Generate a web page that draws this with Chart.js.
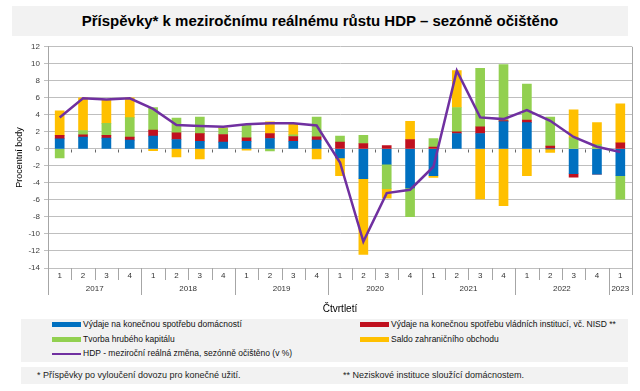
<!DOCTYPE html>
<html>
<head>
<meta charset="utf-8">
<script src="https://cdn.jsdelivr.net/npm/chart.js@4.4.0/dist/chart.umd.min.js"></script>
<style>
  body {
    margin: 0;
    width: 640px;
    height: 391px;
    background: #fff;
    position: relative;
    overflow: hidden;
    font-family: Arial, "Liberation Sans", sans-serif;
  }
  #title {
    position: absolute;
    left: 12px;
    top: 6px;
    width: 616px;
    height: 30px;
    background: #f2f2f2;
    text-align: center;
    font-weight: bold;
    font-size: 15px;
    line-height: 30px;
    color: #000;
  }
  #chartBox { position: absolute; left: 0; top: 38px; width: 640px; height: 277px; }
  #legend {
    position: absolute;
    left: 21px;
    top: 319px;
    width: 607px;
    height: 43px;
    background: #f2f2f2;
  }
  .item {
    position: absolute;
    font-size: 8.5px;
    line-height: 11px;
    height: 11px;
    color: #111;
    white-space: nowrap;
    padding-left: 31px;
  }
  .swatch { position: absolute; left: 0; width: 29px; }
  #notes {
    position: absolute;
    left: 21px;
    top: 367px;
    width: 607px;
    height: 17px;
    background: #f2f2f2;
    font-size: 9px;
    line-height: 17px;
    color: #222;
  }
  #notes span { position: absolute; top: 0; white-space: nowrap; }
</style>
</head>
<body>
<div id="title">Příspěvky* k meziročnímu reálnému růstu HDP – sezónně očištěno</div>
<div id="chartBox"><canvas id="gdpChart" width="640" height="277"></canvas></div>
<div id="legend"></div>
<div id="notes">
  <span style="left:16px">* Příspěvky po vyloučení dovozu pro konečné užití.</span>
  <span style="left:322px">** Neziskové instituce sloužící domácnostem.</span>
</div>
<script>
// quarters 2017Q1 - 2023Q1
const quarters = [
  "1", "2", "3", "4",
  "1", "2", "3", "4",
  "1", "2", "3", "4",
  "1", "2", "3", "4",
  "1", "2", "3", "4",
  "1", "2", "3", "4",
  "1",
];
const years = ["2017", "2018", "2019", "2020", "2021", "2022", "2023"];
const yearQuarters = [4, 4, 4, 4, 4, 4, 1];

// contributions in percentage points
const households = [
  1.18, 1.38, 1.26, 1.03,
  1.5, 1.1, 0.9, 0.79,
  0.9, 1.22, 0.9, 1.03,
  -1.07, -3.51, -1.81, -4.6,
  -3.16, 1.81, 1.81, 3.2,
  3.08, 0, -2.92, -2.96,
  -3.16,
];
const government = [
  0.4, 0.28, 0.32, 0.35,
  0.7, 0.8, 0.9, 0.9,
  0.4, 0.59, 0.56, 0.39,
  0.79, 0.63, 0.4, 1.1,
  0.2, 0.2, 0.79, 0.12,
  0.31, 0.32, -0.4, 0,
  0.71,
];
const capital = [
  -1.07, 0.5, 1.42, 2.29,
  2.65, 1.73, 1.95, 0.7,
  1.58, -0.25, 0.2, 2.33,
  0.71, 0.95, -2.88, -3.37,
  1.02, 2.85, 6.87, 6.58,
  4.22, 3.43, 1.3, 0.5,
  -2.76,
];
const tradeBalance = [
  2.9, 3.83, 2.76, 2.33,
  -0.2, -0.95, -1.18, 0.1,
  -0.15, 1.38, 1.22, -1.18,
  -2.09, -8.9, -1.1, 2.13,
  -0.2, 4.34, -5.88, -6.67,
  -3.16, -0.4, 3.28, 2.58,
  4.58,
];
// GDP y/y real change, %
const gdp = [
  3.7, 5.95, 5.8, 5.95,
  4.7, 2.8, 2.7, 2.6,
  2.9, 3.0, 3.0, 2.75,
  -1.6, -10.9, -5.2, -4.8,
  -2.1, 9.2, 3.7, 3.5,
  4.55, 3.3, 1.4, 0.25,
  -0.36,
];

// centre of each year group on the quarter index scale
const yearCenters = [];
let q = 0;
yearQuarters.forEach((n) => {
  yearCenters.push(q + (n - 1) / 2);
  q += n;
});

const gridColor = "#bfbfbf";
const frameColor = "#a6a6a6";

// quarter / year separators under the plot, zero-line ticks and right frame
const axisLines = {
  id: "axisLines",
  afterDraw(chart) {
    const { ctx, chartArea, scales } = chart;
    const x2 = scales.x2;
    const zero = Math.round(scales.y.getPixelForValue(0)) + 0.5;
    const yearBounds = new Set([0]);
    let s = 0;
    yearQuarters.forEach((n) => {
      s += n;
      yearBounds.add(s);
    });
    ctx.save();
    ctx.lineWidth = 1;
    for (let i = 0; i <= quarters.length; i++) {
      const px = Math.round(x2.getPixelForValue(i - 0.5)) + 0.5;
      ctx.strokeStyle = frameColor;
      ctx.beginPath();
      ctx.moveTo(px, chartArea.bottom);
      ctx.lineTo(px, chartArea.bottom + (yearBounds.has(i) ? 27 : 12));
      ctx.stroke();
      if (i > 0 && i < quarters.length) {
        ctx.strokeStyle = "#666";
        ctx.beginPath();
        ctx.moveTo(px, zero);
        ctx.lineTo(px, zero + 3);
        ctx.stroke();
      }
    }
    const r = Math.round(chartArea.right) + 0.5;
    ctx.strokeStyle = frameColor;
    ctx.beginPath();
    ctx.moveTo(r, chartArea.top);
    ctx.lineTo(r, chartArea.bottom);
    ctx.stroke();
    ctx.restore();
  },
};

Chart.defaults.font.family = 'Arial, "Liberation Sans", sans-serif';

const barBase = { type: "bar", stack: "parts", barThickness: 9, borderWidth: 0, order: 1 };

const chart = new Chart(document.getElementById("gdpChart"), {
  data: {
    labels: quarters,
    datasets: [
      { ...barBase, label: "Výdaje na konečnou spotřebu domácností", data: households, backgroundColor: "#0070c0" },
      { ...barBase, label: "Výdaje na konečnou spotřebu vládních institucí, vč. NISD **", data: government, backgroundColor: "#c0111f" },
      { ...barBase, label: "Tvorba hrubého kapitálu", data: capital, backgroundColor: "#92d050" },
      { ...barBase, label: "Saldo zahraničního obchodu", data: tradeBalance, backgroundColor: "#ffc000" },
      {
        type: "line",
        label: "HDP - meziroční reálná změna, sezónně očištěno (v %)",
        data: gdp,
        stack: "gdp",
        borderColor: "#7030a0",
        backgroundColor: "#7030a0",
        borderWidth: 2.5,
        pointRadius: 0,
        tension: 0,
        order: 0,
      },
    ],
  },
  options: {
    responsive: false,
    animation: false,
    layout: { padding: { top: 4, right: 8, left: 0, bottom: 0 } },
    plugins: {
      legend: { display: false },
      tooltip: { enabled: false },
    },
    scales: {
      x: {
        stacked: true,
        weight: 0,
        grid: { display: false, drawTicks: false },
        border: { color: gridColor },
        ticks: { font: { size: 8 }, color: "#333", padding: 3, maxRotation: 0, autoSkip: false },
        afterFit: (scale) => {
          scale.height = 14;
        },
      },
      x2: {
        type: "linear",
        position: "bottom",
        weight: 1,
        min: -0.5,
        max: quarters.length - 0.5,
        grid: { display: false, drawTicks: false },
        border: { display: false },
        afterBuildTicks: (scale) => {
          scale.ticks = yearCenters.map((v) => ({ value: v }));
        },
        ticks: {
          font: { size: 8 },
          color: "#333",
          padding: 2,
          maxRotation: 0,
          autoSkip: false,
          callback: (value, index) => years[index],
        },
        title: {
          display: true,
          text: "Čtvrtletí",
          font: { size: 10 },
          color: "#000",
          padding: { top: 0, bottom: 0 },
        },
        afterFit: (scale) => {
          scale.height = 33;
        },
      },
      y: {
        stacked: true,
        min: -14,
        max: 12,
        grid: { color: gridColor, tickLength: 4 },
        border: { color: frameColor },
        ticks: { stepSize: 2, font: { size: 8 }, color: "#404040", padding: 4 },
        title: {
          display: true,
          text: "Procentní body",
          font: { size: 9 },
          color: "#000",
          padding: { top: 14, bottom: 0 },
        },
        afterFit: (scale) => {
          scale.width = 48;
        },
      },
    },
  },
  plugins: [axisLines],
});

// legend in two columns, built from the datasets
const legendBox = document.getElementById("legend");
const colX = [31, 339];
const rowY = [0, 15, 29];
chart.data.datasets.forEach((ds, i) => {
  const item = document.createElement("div");
  item.className = "item";
  item.style.left = colX[i % 2] + "px";
  item.style.top = rowY[Math.floor(i / 2)] + "px";
  const sw = document.createElement("span");
  sw.className = "swatch";
  const h = ds.type === "line" ? 2 : 5;
  sw.style.height = h + "px";
  sw.style.top = (5.5 - h / 2) + "px";
  sw.style.background = ds.type === "line" ? ds.borderColor : ds.backgroundColor;
  item.appendChild(sw);
  item.appendChild(document.createTextNode(ds.label));
  legendBox.appendChild(item);
});
</script>
</body>
</html>
